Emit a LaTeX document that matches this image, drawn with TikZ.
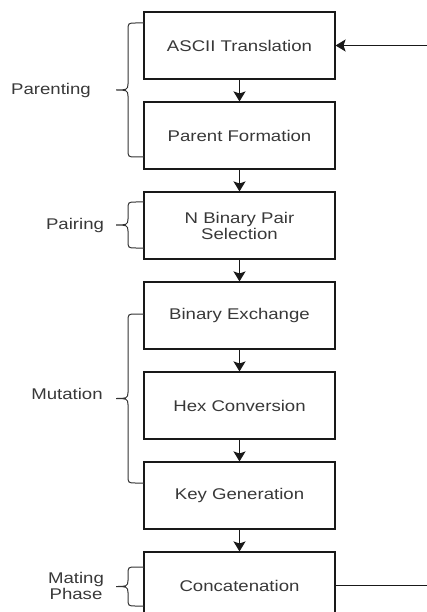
\documentclass[tikz,border=0pt]{standalone}
\usepackage{fontspec}
\setmainfont{Liberation Sans}[FakeStretch=1.2]
\usepackage{tikz}
\usetikzlibrary{arrows.meta,positioning}

\tikzset{
  stagebox/.style={draw=black!90, line width=1.1pt, minimum width=191pt, minimum height=67pt,
    align=center, text=black!78, font=\fontsize{15.5}{16}\selectfont},
  phaselbl/.style={align=center, text=black!78, font=\fontsize{15.5}{16}\selectfont},
  flowline/.style={draw=black!90, line width=1.2pt},
  flow/.style={flowline, -{Stealth[length=10pt,width=12pt,inset=2pt]}},
  bracelin/.style={draw=black!80, line width=1pt}
}

\begin{document}
\begin{tikzpicture}[x=1pt,y=-1pt]
  \useasboundingbox (0,0) rectangle (427,612);
  % stages
  \node[stagebox] (ascii) at (239.5,45.5) {ASCII Translation};
  \node[stagebox,below=21.9pt of ascii] (parent) {Parent Formation};
  \node[stagebox,below=21.9pt of parent] (pair) {N Binary Pair\\Selection};
  \node[stagebox,below=21.9pt of pair] (exch) {Binary Exchange};
  \node[stagebox,below=21.9pt of exch] (hex) {Hex Conversion};
  \node[stagebox,below=21.9pt of hex] (keygen) {Key Generation};
  \node[stagebox,below=21.9pt of keygen] (concat) {Concatenation};
  % flow
  \draw[flow] (ascii) -- (parent);
  \draw[flow] (parent) -- (pair);
  \draw[flow] (pair) -- (exch);
  \draw[flow] (exch) -- (hex);
  \draw[flow] (hex) -- (keygen);
  \draw[flow] (keygen) -- (concat);
  % loop back
  \coordinate (loopin) at (427,45.5);
  \coordinate (loopout) at (427,585.5);
  \draw[flow] (loopin) -- (ascii.east);
  \draw[flowline] (concat.east) -- (concat.east -| loopout);
  % phase braces
  \foreach \t/\b in {23/157, 202/248, 314/483, 567/606}{
    \pgfmathsetmacro{\m}{(\t+\b)/2}
    \draw[bracelin] (144,\t) -- (136,\t) .. controls (128,\t) .. (128,\t+8)
      -- (128,\m-6) .. controls (128,\m) and (126,\m) .. (116,\m)
      .. controls (126,\m) and (128,\m) .. (128,\m+6)
      -- (128,\b-8) .. controls (128,\b) .. (136,\b) -- (144,\b);
  }
  \node[phaselbl] (parenting) at (51,90) {Parenting};
  \node[phaselbl] (pairing) at (75,225) {Pairing};
  \node[phaselbl] (mutation) at (67,394) {Mutation};
  \node[phaselbl] (mating) at (76,586) {Mating\\Phase};
\end{tikzpicture}
\end{document}
